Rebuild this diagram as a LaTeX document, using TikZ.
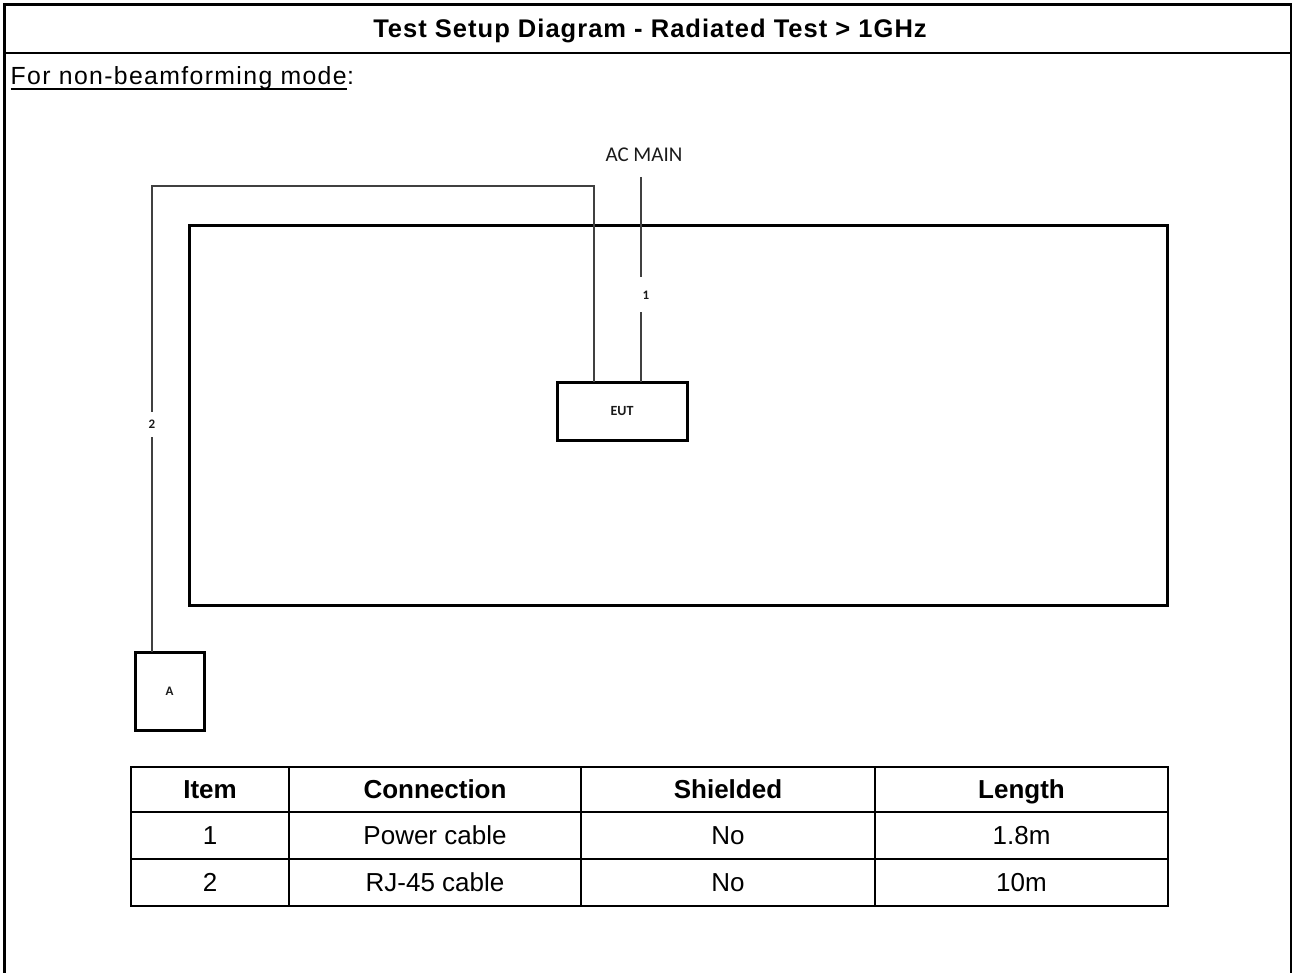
\documentclass[tikz,border=0pt]{standalone}
\usepackage{fontspec}
\setmainfont{Liberation Sans}
\newfontfamily\spacedfont[LetterSpace=5.5]{Liberation Sans}
\newfontfamily\titlefont[LetterSpace=4]{Liberation Sans}
\newfontfamily\labfont{Carlito}
\definecolor{wiregray}{HTML}{404040}
\definecolor{labgray}{HTML}{1A1A1A}
\begin{document}
\begin{tikzpicture}[x=1pt,y=-1pt,
  frameline/.style={line width=3pt},
  sepline/.style={line width=2pt},
  boxstyle/.style={draw, line width=3pt, inner sep=0pt, outer sep=0pt, anchor=north west},
  wire/.style={draw=wiregray, line width=1.6pt},
  dlabel/.style={font=\labfont\bfseries\fontsize{13}{14}\selectfont, text=labgray, fill=white, inner sep=0pt},
  tline/.style={line width=2.7pt},
  ttext/.style={font=\fontsize{26}{30}\selectfont, text height=18.6pt, text depth=0pt, inner sep=0pt},
  thead/.style={ttext, font=\bfseries\fontsize{26}{30}\selectfont},
]
\useasboundingbox (0,0) rectangle (1292,973);
% outer frame
\draw[frameline] (4.5,973) -- (4.5,4.5) -- (1291.5,4.5) -- (1291.5,973);
\draw[sepline] (4.5,53) -- (1291.5,53);
\node[inner sep=0pt, anchor=base, font=\titlefont\bfseries\fontsize{25.5}{29}\selectfont] (title) at (650,37.8) {Test Setup Diagram - Radiated Test > 1GHz};
\node[anchor=base west, inner sep=0pt, font=\spacedfont\fontsize{24.8}{28}\selectfont] (mode) at (10.5,85) {For non-beamforming mode};
\node[anchor=base west, inner sep=0pt, font=\spacedfont\fontsize{24.8}{28}\selectfont] (colon) at (mode.base east) {:};
\draw[line width=1.8pt] ([yshift=-3.8pt]mode.base west) -- ([yshift=-3.8pt]mode.base east);
% diagram
\node[boxstyle, minimum width=978pt, minimum height=379pt] (room) at (189.5,226) {};
\node[boxstyle, minimum width=130pt, minimum height=58pt, font=\labfont\bfseries\fontsize{14}{15}\selectfont, text=labgray] (eut) at (557,382) {EUT};
\node[boxstyle, minimum width=69pt, minimum height=78pt, font=\labfont\bfseries\fontsize{13}{14}\selectfont, text=labgray] (a) at (135,652) {A};
\node[font=\labfont\fontsize{21}{24}\selectfont, text=labgray, inner sep=0pt] (acmain) at (644,155) {AC MAIN};
\coordinate (ac) at (641,177);
\coordinate (c2) at (152,186);
\draw[wire] (ac) -- (ac |- eut.north);
\draw[wire] ([xshift=-17.5pt]a.north) -- (c2) -| ([xshift=-28pt]eut.north);
\node[dlabel, minimum width=14pt, minimum height=35pt] (l1) at (646,295) {1};
\node[dlabel, minimum width=14pt, minimum height=25pt] (l2) at (152,424.5) {2};
% table
\draw[tline] (131,767) rectangle (1168,906);
\draw[tline] (131,812) -- (1168,812);
\draw[tline] (131,859) -- (1168,859);
\foreach \x in {289,581,875} \draw[tline] (\x,767) -- (\x,906);
\node[thead] (h1) at (210,789.5) {Item};
\node[thead] (h2) at (435,789.5) {Connection};
\node[thead] (h3) at (728,789.5) {Shielded};
\node[thead] (h4) at (1021.5,789.5) {Length};
\node[ttext] (r11) at (210,835.5) {1};
\node[ttext] (r12) at (435,835.5) {Power cable};
\node[ttext] (r13) at (728,835.5) {No};
\node[ttext] (r14) at (1021.5,835.5) {1.8m};
\node[ttext] (r21) at (210,882.5) {2};
\node[ttext] (r22) at (435,882.5) {RJ-45 cable};
\node[ttext] (r23) at (728,882.5) {No};
\node[ttext] (r24) at (1021.5,882.5) {10m};
\end{tikzpicture}
\end{document}
